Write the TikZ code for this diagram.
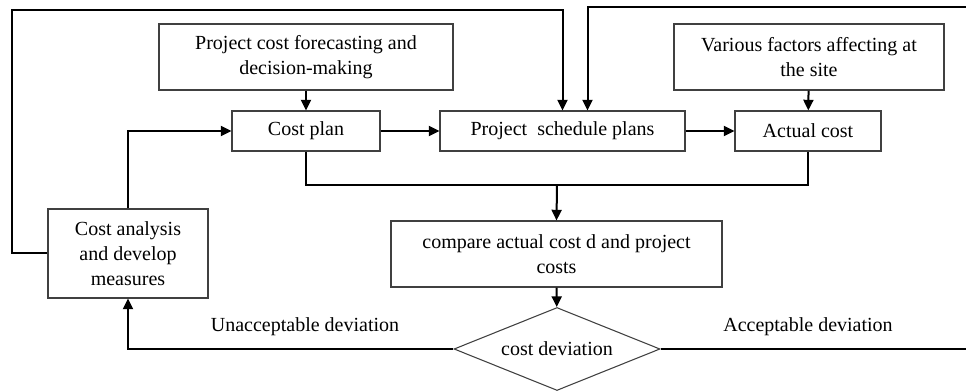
\documentclass[tikz,border=0pt]{standalone}
\usepackage{fontspec}
\setmainfont{Liberation Serif}
\usetikzlibrary{arrows.meta,shapes.geometric}

\begin{document}
\begin{tikzpicture}
% cost control loop, coordinates in pixels of the sketch
\def\px{0.75pt}
\providecommand{\cfBoxColor}{black!75}
\providecommand{\cfBoxLineWidth}{0.8pt}
\providecommand{\cfFlowLineWidth}{1.5pt}
\providecommand{\cfFont}{\fontsize{15}{18.75}\selectfont}
\begin{scope}[x=\px, y=-\px, line join=miter,
    box/.style={draw=\cfBoxColor, line width=\cfBoxLineWidth, align=center, inner sep=0pt, font=\cfFont},
    choice/.style={box, diamond, aspect=2.48, minimum width=206*\px, minimum height=83*\px},
    link/.style={draw=black, line width=\cfFlowLineWidth},
    flow/.style={link, -{Triangle[length=8pt, width=7.5pt]}},
    tag/.style={font=\cfFont, inner sep=0pt}]
  % Frame of the picture
  \useasboundingbox (0,0) rectangle (966,391);
  % Boxes
  \node[box, minimum width=294*\px, minimum height=66*\px] (forecast) at (306,57)
    {Project cost forecasting and\\decision-making};
  \node[box, minimum width=270*\px, minimum height=66*\px] (factors) at (809,57)
    {Various factors affecting at\\the site};
  \node[box, minimum width=148*\px, minimum height=40*\px] (plan) at (306,131) {Cost plan};
  \node[box, minimum width=245*\px, minimum height=40*\px] (schedule) at (562.5,131) {Project\ \ schedule plans};
  \node[box, minimum width=146*\px, minimum height=40*\px] (actual) at (808,131) {Actual cost};
  \node[box, minimum width=331*\px, minimum height=66*\px] (compare) at (556.5,254)
    {compare actual cost d and project\\costs};
  \node[box, minimum width=160*\px, minimum height=89*\px] (analysis) at (128,253.5)
    {Cost analysis\\and develop\\measures};
  \node[choice] (dev) at (557,349) {cost deviation};
  % Labels on the branches
  \node[tag] (unacc) at (305,327) {Unacceptable deviation};
  \node[tag] (acc) at (808,327) {Acceptable deviation};
  % Helper points
  \coordinate (join) at (557,185);
  \coordinate (loopL) at (12,10);
  \coordinate (rimT) at (966,7);
  \coordinate (rimB) at (966,349);
  % Main chain
  \draw[flow] (forecast) -- (plan);
  \draw[flow] (factors) -- (actual);
  \draw[flow] (plan) -- (schedule);
  \draw[flow] (schedule) -- (actual);
  \draw[link] (plan.south) |- (join) -| (actual.south);
  \draw[flow] (join) -- (compare.north);
  \draw[flow] (compare) -- (dev);
  % Feedback
  \draw[flow] (dev.west) -| (analysis.south);
  \draw[flow] (analysis.north) |- (plan.west);
  \draw[flow] (analysis.west) -| (loopL) -| (schedule.north);
  \draw[link] (dev.east) -- (rimB);
  \draw[flow] (rimT) -| ([xshift=25*\px]schedule.north);
\end{scope}
\end{tikzpicture}
\end{document}
